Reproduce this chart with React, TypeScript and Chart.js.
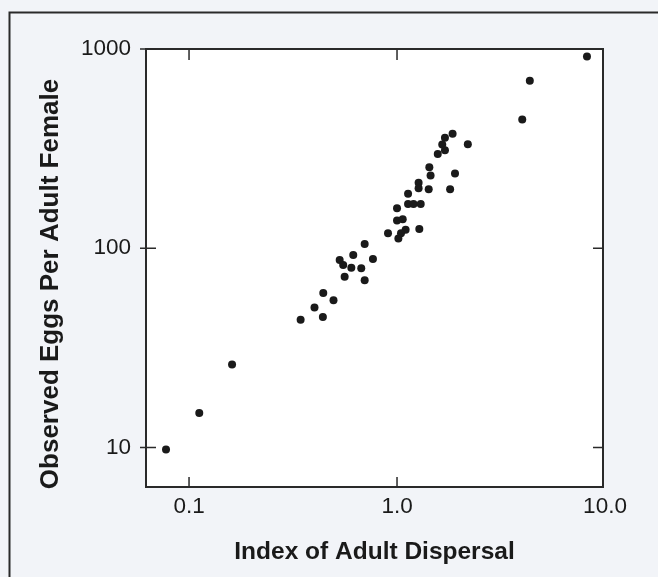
import React, { useEffect, useRef } from "react";
import { Chart, registerables } from "chart.js";

Chart.register(...registerables);

// Index of adult dispersal (x) and observed eggs per adult female (y)
const dispersal = [
  8.19, 4.35, 4.0, 1.85, 1.7, 1.65, 1.7, 1.57, 2.19, 1.43,
  1.45, 1.9, 1.8, 1.42, 1.27, 1.27, 1.13, 1.13, 1.2, 1.3,
  1.0, 1.0, 1.065, 1.28, 1.1, 1.045, 1.015, 0.905, 0.699, 0.766,
  0.616, 0.53, 0.551, 0.603, 0.673, 0.56, 0.699, 0.442, 0.495, 0.401,
  0.44, 0.344, 0.161, 0.112, 0.0775,
];
const eggs = [
  918, 692, 443, 376, 359, 332, 310, 297, 333, 255,
  232, 237, 198, 198, 213, 200, 188, 167, 167, 167,
  159, 138, 140, 125, 124, 119, 112, 119, 105, 88.4,
  92.5, 87.3, 82.4, 79.9, 79.3, 71.9, 69.2, 59.7, 54.8, 50.4,
  45.2, 43.8, 26.1, 14.9, 9.77,
];

const xTickValues = [0.1, 1, 10];
const xTickLabels = ["0.1", "1.0", "10.0"];
const yTickValues = [10, 100, 1000];
const yTickLabels = ["10", "100", "1000"];

const xTitle = "Index of Adult Dispersal";
const yTitle = "Observed Eggs Per Adult Female";

const X_MIN = 0.0621;
const X_MAX = 9.78;
const Y_MIN = 6.34;
const Y_MAX = 1000;

const INK = "#1a1a1a";
const PAGE_BG = "#f2f4f8";
const FONT = "'Liberation Sans', Arial, Helvetica, sans-serif";

const decorPlugin = {
  id: "decor",
  beforeDraw(chart: any) {
    const { ctx, chartArea, width, height } = chart;
    ctx.save();
    ctx.fillStyle = PAGE_BG;
    ctx.fillRect(0, 0, width, height);
    ctx.fillStyle = "#ffffff";
    ctx.fillRect(chartArea.left, chartArea.top, chartArea.right - chartArea.left, chartArea.bottom - chartArea.top);
    // outer figure frame (top and left)
    ctx.strokeStyle = "#2a2a2a";
    ctx.lineWidth = 2;
    ctx.beginPath();
    ctx.moveTo(9.5, 577);
    ctx.lineTo(9.5, 12.5);
    ctx.lineTo(658, 12.5);
    ctx.stroke();
    ctx.restore();
  },
  afterDraw(chart: any) {
    const { ctx, chartArea } = chart;
    const xs = chart.scales.x;
    const ys = chart.scales.y;
    const { left, right, top, bottom } = chartArea;
    ctx.save();
    ctx.strokeStyle = "#2a2a2a";
    ctx.lineWidth = 2;
    ctx.strokeRect(left, top, right - left, bottom - top);
    ctx.lineWidth = 1.5;
    ctx.beginPath();
    for (const v of xTickValues) {
      const px = xs.getPixelForValue(v);
      if (px > right - 2) continue;
      ctx.moveTo(px, top);
      ctx.lineTo(px, top + 11);
      ctx.moveTo(px, bottom);
      ctx.lineTo(px, bottom - 10);
    }
    for (const v of yTickValues) {
      const py = ys.getPixelForValue(v);
      ctx.moveTo(left - 6, py);
      ctx.lineTo(left + 10, py);
      if (py > top + 2) {
        ctx.moveTo(right, py);
        ctx.lineTo(right - 10, py);
      }
    }
    ctx.stroke();
    // y axis title
    ctx.translate(51, 284);
    ctx.rotate(-Math.PI / 2);
    ctx.fillStyle = INK;
    ctx.font = `bold 26px ${FONT}`;
    ctx.textAlign = "center";
    ctx.textBaseline = "middle";
    ctx.fillText(yTitle, 0, 0);
    ctx.restore();
  },
};

export default function App() {
  const ref = useRef<HTMLCanvasElement | null>(null);

  useEffect(() => {
    if (!ref.current) return;
    const chart = new Chart(ref.current, {
      type: "scatter",
      data: {
        datasets: [
          {
            data: dispersal.map((x, i) => ({ x, y: eggs[i] })),
            pointRadius: 4,
            pointHoverRadius: 4,
            backgroundColor: INK,
            borderWidth: 0,
          },
        ],
      },
      options: {
        animation: false,
        responsive: false,
        devicePixelRatio: 1,
        layout: { padding: { left: 0, top: 49, right: 55, bottom: 0 } },
        plugins: { legend: { display: false }, tooltip: { enabled: false } },
        scales: {
          x: {
            type: "logarithmic",
            position: "bottom",
            min: X_MIN,
            max: X_MAX,
            afterBuildTicks: (s: any) => {
              s.ticks = xTickValues.map((value) => ({ value }));
            },
            afterFit: (s: any) => {
              s.height = 90;
            },
            grid: { display: false },
            border: { display: false },
            ticks: {
              autoSkip: false,
              maxRotation: 0,
              padding: -2,
              color: INK,
              font: { family: FONT, size: 22.5 },
              callback: (_v: any, i: number) => xTickLabels[i],
            },
            title: {
              display: true,
              text: xTitle,
              color: INK,
              font: { family: FONT, size: 24.5, weight: "bold" },
              padding: { top: 0, bottom: 10 },
            },
          },
          y: {
            type: "logarithmic",
            position: "left",
            min: Y_MIN,
            max: Y_MAX,
            afterBuildTicks: (s: any) => {
              s.ticks = yTickValues.map((value) => ({ value }));
            },
            afterFit: (s: any) => {
              s.width = 146;
            },
            grid: { display: false },
            border: { display: false },
            ticks: {
              autoSkip: false,
              padding: 7,
              color: INK,
              font: { family: FONT, size: 22.5 },
              callback: (_v: any, i: number) => yTickLabels[i],
            },
          },
        },
      } as any,
      plugins: [decorPlugin],
    });
    return () => chart.destroy();
  }, []);

  return (
    <div style={{ position: "absolute", left: 0, top: 0, width: 658, height: 577 }}>
      <canvas ref={ref} width={658} height={577} style={{ display: "block" }} />
    </div>
  );
}
